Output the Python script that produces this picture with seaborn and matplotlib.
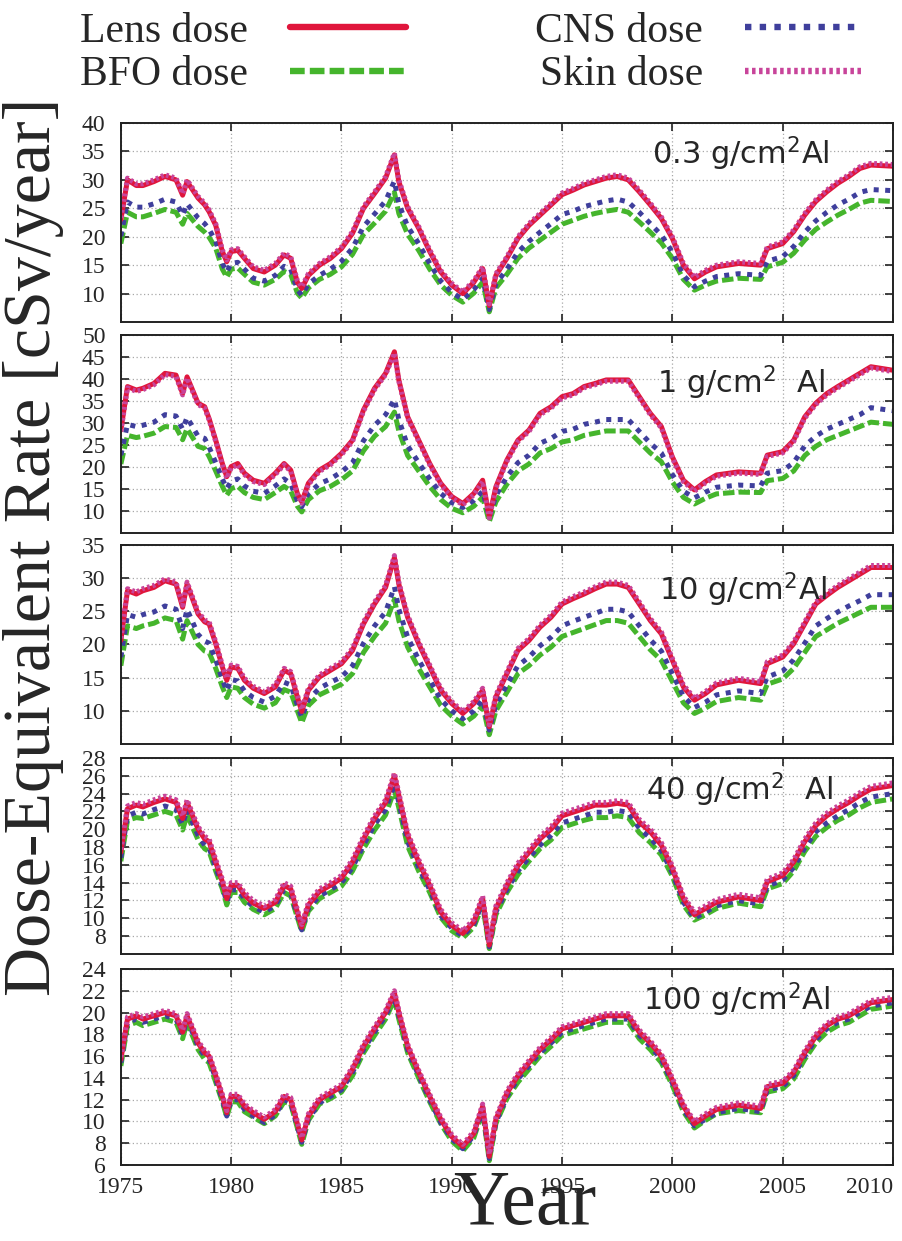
import numpy as np
import pandas as pd
import matplotlib
matplotlib.use("Agg")
import matplotlib.pyplot as plt
import seaborn as sns

# time grid (years)
years = [1975.0, 1975.3, 1975.7, 1976.0, 1976.5, 1977.0, 1977.5, 1977.8, 1978.0, 1978.5,
         1978.8, 1979.0, 1979.3, 1979.6, 1979.8, 1980.0, 1980.3, 1980.6, 1981.0, 1981.5,
         1982.0, 1982.4, 1982.7, 1983.0, 1983.2, 1983.5, 1984.0, 1984.5, 1985.0, 1985.5,
         1986.0, 1986.5, 1987.0, 1987.4, 1987.6, 1988.0, 1988.5, 1989.0, 1989.5, 1990.0,
         1990.5, 1991.0, 1991.4, 1991.7, 1992.0, 1992.5, 1993.0, 1993.5, 1994.0, 1994.5,
         1995.0, 1995.5, 1996.0, 1996.5, 1997.0, 1997.5, 1998.0, 1998.5, 1999.0, 1999.5,
         2000.0, 2000.5, 2001.0, 2001.5, 2002.0, 2003.0, 2004.0, 2004.3, 2005.0, 2005.5,
         2006.0, 2006.5, 2007.0, 2007.5, 2008.0, 2008.5, 2009.0, 2010.0]

# 0.3 g/cm2 Al
lens_03 = [23, 30, 29, 29, 29.7, 30.6, 30, 27.3, 29.7, 26.8, 25.6, 24.4, 22, 17.4, 15.6, 17.4, 17.6, 16.2, 14.4, 13.8,
           15, 16.8, 16.2, 12, 10.9, 13.2, 15, 16.2, 17.9, 20.6, 25, 27.6, 30.3, 34.4, 29.7, 25, 21.5, 17.4, 13.8, 11.5,
           10, 12, 14.4, 7.9, 13.2, 16.2, 19.7, 22, 23.8, 25.6, 27.4, 28.2, 29.1, 29.7, 30.3, 30.6, 30, 27.9, 25.6, 23.2,
           19.7, 15, 12.6, 13.8, 14.7, 15.3, 15, 17.9, 18.8, 20.9, 23.8, 26.2, 27.9, 29.4, 30.6, 32, 32.6, 32.4]
bfo_03 = [18.8, 24.3, 23.5, 23.5, 24.1, 24.8, 24.3, 22.2, 24.1, 21.8, 20.8, 19.9, 18.0, 14.3, 12.9, 14.3, 14.5, 13.4, 12.0, 11.5,
          12.5, 13.9, 13.4, 10.1, 9.2, 11.0, 12.5, 13.4, 14.7, 16.9, 20.4, 22.4, 24.5, 27.8, 24.1, 20.4, 17.6, 14.3, 11.5, 9.7,
          8.5, 10.1, 12.0, 6.8, 11.0, 13.4, 16.2, 18.0, 19.4, 20.8, 22.2, 22.9, 23.6, 24.1, 24.5, 24.8, 24.3, 22.6, 20.8, 18.9,
          16.2, 12.5, 10.6, 11.5, 12.2, 12.7, 12.5, 14.7, 15.5, 17.1, 19.4, 21.3, 22.6, 23.8, 24.8, 25.9, 26.4, 26.2]
cns_03 = [20.1, 26.1, 25.2, 25.2, 25.8, 26.6, 26.1, 23.8, 25.8, 23.3, 22.3, 21.3, 19.2, 15.3, 13.8, 15.3, 15.5, 14.3, 12.7, 12.2,
          13.2, 14.8, 14.3, 10.7, 9.7, 11.7, 13.2, 14.3, 15.7, 18.0, 21.8, 24.0, 26.3, 29.8, 25.8, 21.8, 18.8, 15.3, 12.2, 10.2,
          9.0, 10.7, 12.7, 7.2, 11.7, 14.3, 17.3, 19.2, 20.8, 22.3, 23.9, 24.5, 25.3, 25.8, 26.3, 26.6, 26.1, 24.3, 22.3, 20.3,
          17.3, 13.2, 11.2, 12.2, 13.0, 13.5, 13.2, 15.7, 16.5, 18.3, 20.8, 22.8, 24.3, 25.6, 26.6, 27.8, 28.3, 28.1]
skin_03 = [23.3, 30.3, 29.3, 29.3, 30.0, 30.9, 30.3, 27.6, 30.0, 27.1, 25.9, 24.7, 22.3, 17.7, 15.9, 17.7, 17.9, 16.5, 14.7, 14.1,
           15.3, 17.1, 16.5, 12.3, 11.2, 13.5, 15.3, 16.5, 18.2, 20.9, 25.3, 27.9, 30.6, 34.7, 30.0, 25.3, 21.8, 17.7, 14.1, 11.8,
           10.3, 12.3, 14.7, 8.2, 13.5, 16.5, 20.0, 22.3, 24.1, 25.9, 27.7, 28.5, 29.4, 30.0, 30.6, 30.9, 30.3, 28.2, 25.9, 23.5,
           20.0, 15.3, 12.9, 14.1, 15.0, 15.6, 15.3, 18.2, 19.1, 21.2, 24.1, 26.5, 28.2, 29.7, 30.9, 32.3, 32.9, 32.7]

# 1 g/cm2 Al
lens_1 = [28.4, 38.3, 37.5, 37.9, 39, 41.3, 40.9, 36.7, 40.5, 34.5, 33.7, 31, 26.1, 20.8, 17.8, 20.1, 20.8, 18.6, 17, 16.3,
          18.6, 20.8, 19.3, 14, 12.1, 16.3, 19.3, 20.8, 23.1, 26.1, 33, 37.9, 41.3, 46.2, 39.8, 31.4, 26.1, 20.8, 16.3, 13.3,
          11.7, 14, 17, 8.7, 15.5, 21.6, 26.1, 28.4, 32.2, 33.7, 36, 36.7, 38.3, 39, 39.8, 39.8, 39.8, 36, 32.2, 29.2,
          22.3, 17, 14.8, 16.7, 18.2, 18.9, 18.6, 22.7, 23.5, 26.1, 31.4, 34.5, 36.7, 38.3, 39.8, 41.3, 42.8, 42]
bfo_1 = [20.7, 27.2, 26.7, 27.0, 27.7, 29.2, 29.0, 26.2, 28.7, 24.7, 24.2, 22.4, 19.1, 15.6, 13.6, 15.1, 15.6, 14.2, 13.1, 12.6,
         14.2, 15.6, 14.6, 11.1, 9.8, 12.6, 14.6, 15.6, 17.1, 19.1, 23.7, 27.0, 29.2, 32.5, 28.2, 22.6, 19.1, 15.6, 12.6, 10.6,
         9.6, 11.1, 13.1, 7.6, 12.1, 16.1, 19.1, 20.7, 23.2, 24.2, 25.7, 26.2, 27.2, 27.7, 28.2, 28.2, 28.2, 25.7, 23.2, 21.2,
         16.6, 13.1, 11.6, 12.9, 13.9, 14.3, 14.2, 16.9, 17.4, 19.1, 22.6, 24.7, 26.2, 27.2, 28.2, 29.2, 30.2, 29.7]
cns_1 = [22.7, 29.7, 29.2, 29.5, 30.2, 31.9, 31.6, 28.6, 31.3, 27.0, 26.5, 24.5, 21.0, 17.3, 15.1, 16.8, 17.3, 15.7, 14.5, 14.0,
         15.7, 17.3, 16.2, 12.4, 11.0, 14.0, 16.2, 17.3, 18.9, 21.0, 26.0, 29.5, 31.9, 35.4, 30.8, 24.8, 21.0, 17.3, 14.0, 11.9,
         10.8, 12.4, 14.5, 8.6, 13.5, 17.8, 21.0, 22.7, 25.4, 26.5, 28.1, 28.6, 29.7, 30.2, 30.8, 30.8, 30.8, 28.1, 25.4, 23.2,
         18.3, 14.5, 13.0, 14.3, 15.4, 15.9, 15.7, 18.6, 19.2, 21.0, 24.8, 27.0, 28.6, 29.7, 30.8, 31.9, 33.5, 32.8]
skin_1 = [28.1, 38.0, 37.2, 37.6, 38.7, 41.0, 40.6, 36.4, 40.2, 34.2, 33.4, 30.7, 25.8, 20.5, 17.5, 19.8, 20.5, 18.3, 16.7, 16.0,
          18.3, 20.5, 19.0, 13.7, 11.8, 16.0, 19.0, 20.5, 22.8, 25.8, 32.7, 37.6, 41.0, 45.9, 39.5, 31.1, 25.8, 20.5, 16.0, 13.0,
          11.4, 13.7, 16.7, 8.4, 15.2, 21.3, 25.8, 28.1, 31.9, 33.4, 35.7, 36.4, 38.0, 38.7, 39.5, 39.5, 39.5, 35.7, 31.9, 28.9,
          22.0, 16.7, 14.5, 16.4, 17.9, 18.6, 18.3, 22.4, 23.2, 25.8, 31.1, 34.2, 36.4, 38.0, 39.5, 41.0, 42.5, 41.7]

# 10 g/cm2 Al
lens_10 = [20.6, 28.1, 27.6, 28.1, 28.6, 29.6, 29.1, 25.6, 29.1, 24.6, 23.4, 23.1, 20.1, 16.6, 14.6, 16.6, 16.4, 14.6, 13.4, 12.6,
           13.6, 16.1, 15.6, 12.1, 9.9, 13.1, 15.1, 16.1, 17.1, 19.1, 23.1, 26.1, 28.6, 33.1, 29.1, 24.1, 20.1, 16.6, 13.1, 11.1,
           9.6, 11.1, 13.1, 7.6, 12.1, 15.6, 19.1, 20.6, 22.6, 24.1, 26.1, 26.9, 27.6, 28.4, 29.1, 29.1, 28.6, 26.1, 23.6, 21.6,
           17.6, 13.6, 11.6, 12.6, 13.9, 14.6, 14.1, 17.1, 18.1, 20.1, 23.1, 26.1, 27.4, 28.6, 29.6, 30.6, 31.6, 31.6]
bfo_10 = [16.8, 22.8, 22.4, 22.8, 23.2, 24.0, 23.6, 20.8, 23.6, 20.0, 19.0, 18.8, 16.4, 13.6, 12.0, 13.6, 13.4, 12.0, 11.0, 10.4,
          11.2, 13.2, 12.8, 10.0, 8.2, 10.8, 12.4, 13.2, 14.0, 15.6, 18.8, 21.2, 23.2, 26.8, 23.6, 19.6, 16.4, 13.6, 10.8, 9.2,
          8.0, 9.2, 10.8, 6.4, 10.0, 12.8, 15.6, 16.8, 18.4, 19.6, 21.2, 21.8, 22.4, 23.0, 23.6, 23.6, 23.2, 21.2, 19.2, 17.6,
          14.4, 11.2, 9.6, 10.4, 11.4, 12.0, 11.6, 14.0, 14.8, 16.4, 18.8, 21.2, 22.2, 23.2, 24.0, 24.8, 25.6, 25.6]
cns_10 = [18.1, 24.5, 24.1, 24.5, 24.9, 25.8, 25.3, 22.4, 25.3, 21.5, 20.5, 20.2, 17.7, 14.7, 13.0, 14.7, 14.5, 13.0, 12.0, 11.3,
          12.2, 14.3, 13.9, 10.9, 9.0, 11.7, 13.4, 14.3, 15.1, 16.8, 20.2, 22.8, 24.9, 28.7, 25.3, 21.1, 17.7, 14.7, 11.7, 10.0,
          8.8, 10.0, 11.7, 7.1, 10.9, 13.9, 16.8, 18.1, 19.8, 21.1, 22.8, 23.5, 24.1, 24.7, 25.3, 25.3, 24.9, 22.8, 20.7, 19.0,
          15.6, 12.2, 10.5, 11.3, 12.4, 13.0, 12.6, 15.1, 16.0, 17.7, 20.2, 22.8, 23.9, 24.9, 25.8, 26.6, 27.5, 27.5]
skin_10 = [20.9, 28.4, 27.9, 28.4, 28.9, 29.9, 29.4, 25.9, 29.4, 24.9, 23.7, 23.4, 20.4, 16.9, 14.9, 16.9, 16.7, 14.9, 13.7, 12.9,
           13.9, 16.4, 15.9, 12.4, 10.2, 13.4, 15.4, 16.4, 17.4, 19.4, 23.4, 26.4, 28.9, 33.4, 29.4, 24.4, 20.4, 16.9, 13.4, 11.4,
           9.9, 11.4, 13.4, 7.9, 12.4, 15.9, 19.4, 20.9, 22.9, 24.4, 26.4, 27.2, 27.9, 28.7, 29.4, 29.4, 28.9, 26.4, 23.9, 21.9,
           17.9, 13.9, 11.9, 12.9, 14.2, 14.9, 14.4, 17.4, 18.4, 20.4, 23.4, 26.4, 27.7, 28.9, 29.9, 30.9, 31.9, 31.9]

# 40 g/cm2 Al
lens_40 = [17.4, 22.3, 22.7, 22.5, 23, 23.4, 23, 21.2, 23, 20, 18.9, 18.6, 16.3, 14.1, 12.2, 13.7, 13.7, 12.6, 11.7, 11.1,
           11.8, 13.7, 13.3, 10.7, 9, 11.5, 13, 13.7, 14.5, 16.3, 18.9, 21.2, 23, 26, 23.8, 19.3, 16.3, 13.7, 10.7, 9.2,
           8.3, 9.6, 12.2, 7, 11.1, 13.7, 15.9, 17.4, 18.9, 20, 21.5, 21.9, 22.3, 22.7, 22.7, 22.9, 22.7, 20.8, 19.7, 18.2,
           15.6, 12.2, 10.4, 11.1, 11.8, 12.4, 12, 14.1, 14.8, 16.3, 18.6, 20.4, 21.5, 22.3, 23, 23.8, 24.5, 24.9]
bfo_40 = [16.4, 21.0, 21.3, 21.2, 21.6, 22.0, 21.6, 19.9, 21.6, 18.8, 17.8, 17.5, 15.3, 13.3, 11.5, 12.9, 12.9, 11.8, 11.0, 10.4,
          11.1, 12.9, 12.5, 10.1, 8.5, 10.8, 12.2, 12.9, 13.6, 15.3, 17.8, 19.9, 21.6, 24.4, 22.4, 18.1, 15.3, 12.9, 10.1, 8.6,
          7.8, 9.0, 11.5, 6.6, 10.4, 12.9, 14.9, 16.4, 17.8, 18.8, 20.2, 20.6, 21.0, 21.3, 21.3, 21.5, 21.3, 19.6, 18.5, 17.1,
          14.7, 11.5, 9.8, 10.4, 11.1, 11.7, 11.3, 13.3, 13.9, 15.3, 17.5, 19.2, 20.2, 21.0, 21.6, 22.4, 23.0, 23.4]
cns_40 = [16.8, 21.5, 21.9, 21.7, 22.2, 22.6, 22.2, 20.5, 22.2, 19.3, 18.2, 17.9, 15.7, 13.6, 11.8, 13.2, 13.2, 12.2, 11.3, 10.7,
          11.4, 13.2, 12.8, 10.3, 8.7, 11.1, 12.5, 13.2, 14.0, 15.7, 18.2, 20.5, 22.2, 25.1, 23.0, 18.6, 15.7, 13.2, 10.3, 8.9,
          8.0, 9.3, 11.8, 6.8, 10.7, 13.2, 15.3, 16.8, 18.2, 19.3, 20.7, 21.1, 21.5, 21.9, 21.9, 22.1, 21.9, 20.1, 19.0, 17.6,
          15.1, 11.8, 10.0, 10.7, 11.4, 12.0, 11.6, 13.6, 14.3, 15.7, 17.9, 19.7, 20.7, 21.5, 22.2, 23.0, 23.6, 24.0]
skin_40 = [17.7, 22.6, 23.0, 22.8, 23.3, 23.7, 23.3, 21.5, 23.3, 20.3, 19.2, 18.9, 16.6, 14.4, 12.5, 14.0, 14.0, 12.9, 12.0, 11.4,
           12.1, 14.0, 13.6, 11.0, 9.3, 11.8, 13.3, 14.0, 14.8, 16.6, 19.2, 21.5, 23.3, 26.3, 24.1, 19.6, 16.6, 14.0, 11.0, 9.5,
           8.6, 9.9, 12.5, 7.3, 11.4, 14.0, 16.2, 17.7, 19.2, 20.3, 21.8, 22.2, 22.6, 23.0, 23.0, 23.2, 23.0, 21.1, 20.0, 18.5,
           15.9, 12.5, 10.7, 11.4, 12.1, 12.7, 12.3, 14.4, 15.1, 16.6, 18.9, 20.7, 21.8, 22.6, 23.3, 24.1, 24.8, 25.2]

# 100 g/cm2 Al
lens_100 = [15.7, 19.4, 19.7, 19.4, 19.7, 20, 19.7, 18.2, 19.7, 17.2, 16.3, 16, 14.2, 12.3, 10.8, 12.3, 12.3, 11.4, 10.8, 10.2,
            10.9, 12.3, 12, 9.8, 8.3, 10.5, 12, 12.6, 13.2, 14.8, 16.9, 18.5, 20, 21.8, 20, 16.9, 14.5, 12.3, 10.2, 8.6,
            7.7, 8.9, 11.4, 6.8, 10.2, 12.6, 14.2, 15.4, 16.6, 17.5, 18.5, 18.8, 19.1, 19.4, 19.7, 19.7, 19.7, 18.2, 17.2, 16,
            13.8, 11.4, 9.8, 10.5, 11.1, 11.5, 11.2, 13.2, 13.5, 14.5, 16.3, 17.8, 18.8, 19.4, 19.7, 20.3, 20.9, 21.2]
bfo_100 = [15.1, 18.8, 19.1, 18.8, 19.1, 19.4, 19.1, 17.6, 19.1, 16.6, 15.7, 15.4, 13.6, 11.8, 10.4, 11.8, 11.8, 10.9, 10.4, 9.8,
           10.5, 11.8, 11.6, 9.4, 7.9, 10.1, 11.6, 12.1, 12.7, 14.2, 16.3, 17.9, 19.4, 21.2, 19.4, 16.3, 14.0, 11.8, 9.8, 8.2,
           7.3, 8.5, 10.9, 6.4, 9.8, 12.1, 13.6, 14.8, 16.0, 16.9, 17.9, 18.2, 18.5, 18.8, 19.1, 19.1, 19.1, 17.6, 16.6, 15.4,
           13.3, 10.9, 9.4, 10.1, 10.7, 11.0, 10.8, 12.7, 13.0, 13.9, 15.7, 17.2, 18.2, 18.8, 19.1, 19.7, 20.3, 20.6]
cns_100 = [15.4, 19.1, 19.4, 19.1, 19.4, 19.7, 19.4, 17.9, 19.4, 16.9, 16.0, 15.7, 13.9, 12.0, 10.5, 12.0, 12.0, 11.1, 10.5, 9.9,
           10.6, 12.0, 11.7, 9.5, 8.1, 10.2, 11.7, 12.3, 12.9, 14.5, 16.6, 18.2, 19.7, 21.4, 19.7, 16.6, 14.2, 12.0, 9.9, 8.4,
           7.5, 8.7, 11.1, 6.6, 9.9, 12.3, 13.9, 15.1, 16.3, 17.2, 18.2, 18.5, 18.8, 19.1, 19.4, 19.4, 19.4, 17.9, 16.9, 15.7,
           13.5, 11.1, 9.6, 10.2, 10.8, 11.2, 10.9, 12.9, 13.2, 14.2, 16.0, 17.5, 18.5, 19.1, 19.4, 20.0, 20.6, 20.9]
skin_100 = [15.9, 19.6, 19.9, 19.6, 19.9, 20.2, 19.9, 18.4, 19.9, 17.4, 16.5, 16.2, 14.4, 12.5, 11.0, 12.5, 12.5, 11.6, 11.0, 10.4,
            11.1, 12.5, 12.2, 10.0, 8.5, 10.7, 12.2, 12.8, 13.4, 15.0, 17.1, 18.7, 20.2, 22.0, 20.2, 17.1, 14.7, 12.5, 10.4, 8.8,
            7.9, 9.1, 11.6, 7.0, 10.4, 12.8, 14.4, 15.6, 16.8, 17.7, 18.7, 19.0, 19.3, 19.6, 19.9, 19.9, 19.9, 18.4, 17.4, 16.2,
            14.0, 11.6, 10.0, 10.7, 11.3, 11.7, 11.4, 13.4, 13.7, 14.7, 16.5, 18.0, 19.0, 19.6, 19.9, 20.5, 21.1, 21.4]

series_names = ["Lens dose", "BFO dose", "CNS dose", "Skin dose"]
panel_names = ["0.3 g/cm$^2$Al", "1 g/cm$^2$  Al", "10 g/cm$^2$Al", "40 g/cm$^2$  Al", "100 g/cm$^2$Al"]
panel_data = [
    [lens_03, bfo_03, cns_03, skin_03],
    [lens_1, bfo_1, cns_1, skin_1],
    [lens_10, bfo_10, cns_10, skin_10],
    [lens_40, bfo_40, cns_40, skin_40],
    [lens_100, bfo_100, cns_100, skin_100],
]
y_limits = [(5, 40), (5, 50), (5, 35), (6, 28), (6, 24)]
y_ticks = [np.arange(10, 41, 5), np.arange(10, 51, 5), np.arange(10, 36, 5),
           np.arange(8, 29, 2), np.arange(6, 25, 2)]
x_ticks = np.arange(1975, 2011, 5)

colors = {"Lens dose": "#e0163c", "BFO dose": "#45b52c", "CNS dose": "#3f3f9c", "Skin dose": "#c8449a"}
styles = {"Lens dose": "-", "BFO dose": (0, (2.3, 0.8)), "CNS dose": (0, (1.0, 1.3)),
          "Skin dose": (0, (0.55, 0.55))}
draw_order = ["BFO dose", "CNS dose", "Lens dose", "Skin dose"]

sns.set_theme(style="ticks")
plt.rcParams["font.family"] = ["Liberation Serif", "DejaVu Serif"]
plt.rcParams["mathtext.fontset"] = "dejavusans"

fig = plt.figure(figsize=(9.02, 12.41), dpi=100)
boxes = [(0.134, 0.7405, 0.856, 0.1604),
         (0.134, 0.5705, 0.856, 0.1595),
         (0.134, 0.4005, 0.856, 0.1604),
         (0.134, 0.2313, 0.856, 0.1580),
         (0.134, 0.0612, 0.856, 0.1580)]
label_pos = [(0.803, 0.844), (0.803, 0.758), (0.806, 0.774), (0.802, 0.837), (0.797, 0.842)]

handles = {}
for i in range(5):
    ax = fig.add_axes(boxes[i])
    df = pd.DataFrame({"year": years})
    for name, vals in zip(series_names, panel_data[i]):
        df[name] = vals
    for s in draw_order:
        sns.lineplot(data=df, x="year", y=s, ax=ax, color=colors[s], linestyle=styles[s],
                     linewidth=3.6, legend=False)
        handles[s] = ax.lines[-1]
    ax.set(xlabel="", ylabel="")
    ax.set_xlim(1975, 2010)
    ax.set_ylim(*y_limits[i])
    ax.set_xticks(x_ticks)
    ax.set_yticks(y_ticks[i])
    ax.set_axisbelow(True)
    ax.grid(True, color="#a8a8a8", linestyle=(0, (1, 2)), linewidth=0.9)
    ax.tick_params(direction="in", length=6, width=1.2, top=True, right=True, labelsize=17, color="#222222")
    ax.tick_params(axis="y", pad=11)
    ax.tick_params(axis="x", pad=8.5)
    for sp in ax.spines.values():
        sp.set_linewidth(1.4)
        sp.set_color("#222222")
    if i < 4:
        ax.tick_params(labelbottom=False)
    else:
        ax.xaxis.get_major_ticks()[-1].label1.set_horizontalalignment("right")
    ax.text(label_pos[i][0], label_pos[i][1], panel_names[i], transform=ax.transAxes,
            ha="center", va="center", fontsize=22, family="DejaVu Sans", zorder=10)

leg = fig.legend(handles=[handles[s] for s in series_names], labels=series_names,
                 loc="upper left", bbox_to_anchor=(0.084, 0.9935), ncol=2, frameon=False,
                 markerfirst=False, fontsize=30, handlelength=2.8, handletextpad=1.0,
                 columnspacing=3.1, labelspacing=0.12, borderpad=0.1, borderaxespad=0)
for line in leg.get_lines():
    line.set_linewidth(4.6)

fig.text(0.037, 0.559, "Dose-Equivalent Rate [cSv/year]", rotation=90, ha="center", va="center", fontsize=49)
fig.text(0.582, 0.0, "Year", ha="center", va="bottom", fontsize=56)

fig.savefig("out.png", dpi=100)
